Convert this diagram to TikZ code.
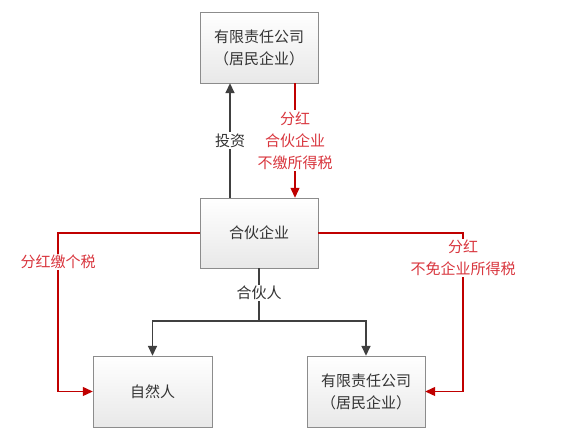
\documentclass[tikz,border=0pt]{standalone}
\usepackage{fontspec}
\newfontfamily\cjk{Noto Sans CJK SC}
\usetikzlibrary{arrows.meta,positioning,shadows}
\definecolor{gris}{HTML}{404040}
\definecolor{grisborde}{HTML}{8C8C8C}
\definecolor{texto}{HTML}{333333}
\definecolor{rojo}{HTML}{C00000}
\definecolor{rojotexto}{HTML}{D9363E}
\tikzset{
  caja/.style={draw=grisborde,top color=white,bottom color=gray!18,align=center,
    text=texto,minimum width=118pt,minimum height=71pt,inner sep=2pt,
    drop shadow={shadow xshift=1.2pt,shadow yshift=-1.2pt,fill=gray!45}},
  flecha/.style={-{Triangle[length=10pt,width=9pt]},line width=1.6pt,gris},
  linea/.style={line width=1.2pt,gris},
  flechar/.style={-{Triangle[length=10pt,width=9pt]},line width=1.2pt,rojo},
  etiqueta/.style={fill=white,inner sep=1.5pt,align=center,text=texto},
  etiquetar/.style={etiqueta,text=rojotexto},
}
\begin{document}
\begin{tikzpicture}[x=1pt,y=1pt,font=\cjk\fontsize{15}{22}\selectfont]
  \useasboundingbox (0,0) rectangle (563,-446);
  \node[caja] (arriba) at (259,-47.5) {有限责任公司\\（居民企业）};
  \node[caja,minimum height=70pt] (medio) at (259,-233) {合伙企业};
  \node[caja,minimum width=119pt] (natural) at (152.5,-391.5) {自然人};
  \node[caja] (empresa) at (366,-391.5) {有限责任公司\\（居民企业）};
  \coordinate (rama) at (259,-321);
  \coordinate (izq) at (58,-300);
  \coordinate (der) at (463,-300);
  % inversion y dividendos
  \draw[flecha] ([xshift=-29pt]medio.north) -- node[etiqueta] {投资} ([xshift=-29pt]arriba.south);
  \draw[flechar] ([xshift=36pt]arriba.south) -- node[etiquetar] {分红\\合伙企业\\不缴所得税} ([xshift=36pt]medio.north);
  % socios
  \draw[linea] (medio.south) -- node[etiqueta,pos=0.47] {合伙人} (rama);
  \draw[flecha] (rama) -| (natural.north);
  \draw[flecha] (rama) -| (empresa.north);
  % reparto a socios
  \draw[flechar] (medio.west) -| (izq) |- (natural.west);
  \draw[flechar] (medio.east) -| (der) |- (empresa.east);
  \node[etiquetar] (impuesto) at (58,-262) {分红缴个税};
  \node[etiquetar] (exento) at (463,-258) {分红\\不免企业所得税};
\end{tikzpicture}
\end{document}
